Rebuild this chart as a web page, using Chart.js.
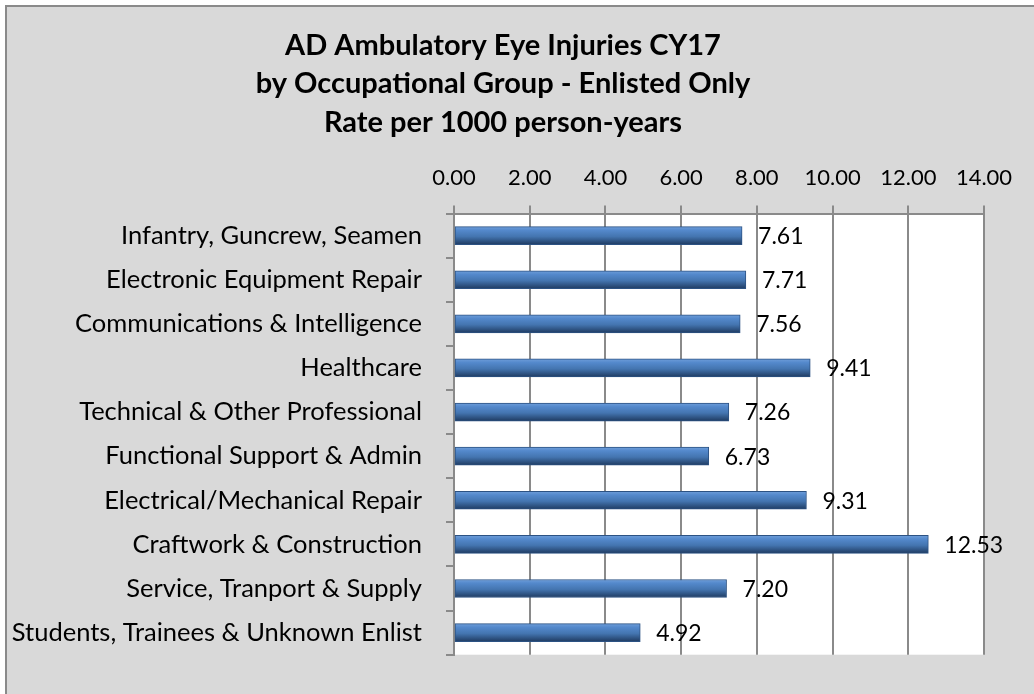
<!DOCTYPE html>
<html><head><meta charset="utf-8">
<script src="https://cdn.jsdelivr.net/npm/chart.js@4/dist/chart.umd.min.js"></script>
<style>html,body{margin:0;padding:0;background:#fff}canvas{display:block}</style>
</head><body>
<canvas id="c" width="1034" height="694"></canvas>
<script>
const titleLines = ['AD Ambulatory Eye Injuries CY17', 'by Occupational Group - Enlisted Only', 'Rate per 1000 person-years'];
const categories = ['Infantry, Guncrew, Seamen', 'Electronic Equipment Repair', 'Communications & Intelligence', 'Healthcare', 'Technical & Other Professional', 'Functional Support & Admin', 'Electrical/Mechanical Repair', 'Craftwork & Construction', 'Service, Tranport & Supply', 'Students, Trainees & Unknown Enlist'];
const rates = [7.61, 7.71, 7.56, 9.41, 7.26, 6.73, 9.31, 12.53, 7.20, 4.92];
const axisMin = 0, axisMax = 14, axisStep = 2;

Chart.defaults.font.family = 'Lato';
const GRAY = '#8a8a8a';

const bgPlugin = {
  id: 'bg',
  afterLayout(chart) {
    if (chart.titleBlock) { chart.titleBlock.left = 22; chart.titleBlock.right = 984; chart.titleBlock.width = 962; }
  },
  beforeDraw(chart) {
    const ctx = chart.ctx, a = chart.chartArea;
    ctx.save();
    ctx.fillStyle = '#ffffff';
    ctx.fillRect(0, 0, chart.width, chart.height);
    ctx.fillStyle = '#d9d9d9';
    ctx.fillRect(6, 6, chart.width, chart.height);
    ctx.strokeStyle = GRAY; ctx.lineWidth = 2;
    ctx.beginPath(); ctx.moveTo(6, chart.height + 5); ctx.lineTo(6, 6); ctx.lineTo(chart.width + 5, 6); ctx.stroke();
    ctx.fillStyle = '#ffffff';
    ctx.fillRect(a.left, a.top, a.right - a.left, a.bottom - a.top);
    ctx.restore();
  }
};

const labelPlugin = {
  id: 'vals',
  afterDatasetsDraw(chart) {
    const ctx = chart.ctx;
    const meta = chart.getDatasetMeta(0);
    ctx.save();
    ctx.font = '23px Lato';
    ctx.fillStyle = '#000';
    ctx.textAlign = 'left';
    ctx.textBaseline = 'middle';
    meta.data.forEach((el, i) => {
      ctx.fillText(rates[i].toFixed(2), el.x + 16, el.y + 1);
    });
    ctx.restore();
  }
};

new Chart(document.getElementById('c'), {
  type: 'bar',
  data: {
    labels: categories,
    datasets: [{
      data: rates,
      barThickness: 18,
      borderWidth: 1,
      borderColor: '#2c5283',
      borderSkipped: false,
      backgroundColor: (c) => {
        const ch = c.chart;
        if (!ch.chartArea || !ch.scales.y) return '#4f81bd';
        const y = ch.scales.y.getPixelForValue(c.dataIndex);
        const g = ch.ctx.createLinearGradient(0, y - 9, 0, y + 9);
        g.addColorStop(0, '#6f9ed9');
        g.addColorStop(0.2, '#5489cc');
        g.addColorStop(0.55, '#4475b0');
        g.addColorStop(1, '#1f3b61');
        return g;
      }
    }]
  },
  options: {
    indexAxis: 'y',
    responsive: false,
    animation: false,
    layout: { padding: { left: 4, right: 50, top: 26, bottom: 27 } },
    plugins: {
      legend: { display: false },
      tooltip: { enabled: false },
      title: {
        display: true,
        text: titleLines,
        color: '#000',
        font: { family: 'Lato', size: 29, weight: 'bold', lineHeight: 1.328 },
        padding: { top: 0, bottom: 0 }
      }
    },
    scales: {
      x: {
        position: 'top',
        min: axisMin, max: axisMax,
        afterFit: (s) => { s.height = 72; },
        ticks: { stepSize: axisStep, padding: 14, color: '#000', font: { size: 22 }, maxRotation: 0, autoSkip: false,
          callback: (v) => Number(v).toFixed(2) },
        grid: { color: GRAY, lineWidth: 2, tickLength: 8, drawTicks: true },
        border: { display: true, color: GRAY, width: 2 }
      },
      y: {
        afterFit: (s) => { s.width = 450; },
        ticks: { padding: 24, color: '#000', font: { size: 25.5 }, autoSkip: false },
        grid: { color: GRAY, lineWidth: 2, tickLength: 8, drawOnChartArea: false, offset: true },
        border: { display: true, color: GRAY, width: 2 }
      }
    }
  },
  plugins: [bgPlugin, labelPlugin]
});
</script>
</body></html>
